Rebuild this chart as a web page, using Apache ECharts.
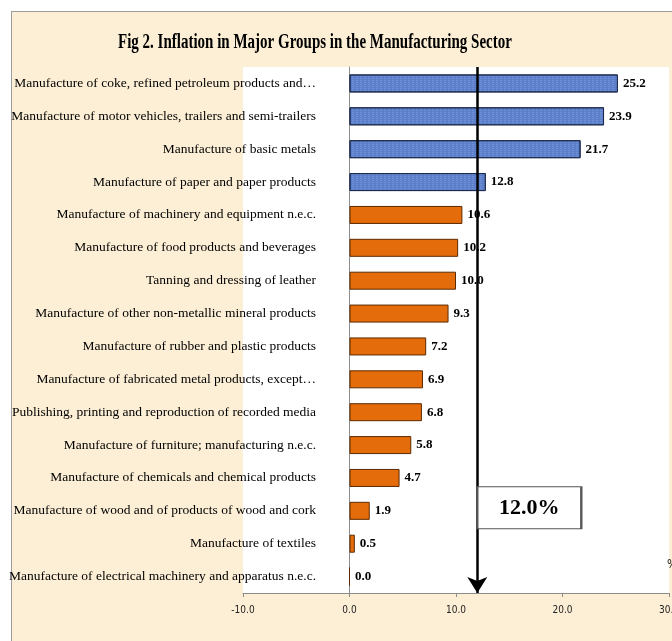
<!DOCTYPE html>
<html>
<head>
<meta charset="utf-8">
<script src="https://cdn.jsdelivr.net/npm/echarts@6/dist/echarts.min.js"></script>
<style>
  html, body { margin: 0; padding: 0; background: #fff; overflow: hidden; }
  #wrap { position: relative; width: 672px; height: 641px; overflow: hidden; }
  #frame { position: absolute; left: 11px; top: 11px; width: 720px; height: 700px;
           border: 1px solid #9c9c9c; background: #fcefd5; }
  #chart { position: absolute; left: 0; top: 0; width: 672px; height: 641px; }
</style>
</head>
<body>
<div id="wrap">
  <div id="frame"></div>
  <div id="chart"></div>
</div>
<script>
var titleText = 'Fig 2. Inflation in Major Groups in the Manufacturing Sector';

var categories = [
  'Manufacture of coke, refined petroleum products and\u2026',
  'Manufacture of motor vehicles, trailers and semi-trailers',
  'Manufacture of basic metals',
  'Manufacture of paper and paper products',
  'Manufacture of machinery and equipment n.e.c.',
  'Manufacture of food products and beverages',
  'Tanning and dressing of leather',
  'Manufacture of other non-metallic mineral products',
  'Manufacture of rubber and plastic products',
  'Manufacture of fabricated metal products, except\u2026',
  'Publishing, printing and reproduction of recorded media',
  'Manufacture of furniture; manufacturing n.e.c.',
  'Manufacture of chemicals and chemical products',
  'Manufacture of wood and of products of wood and cork',
  'Manufacture of textiles',
  'Manufacture of electrical machinery and apparatus n.e.c.'
];

var values = [25.2, 23.9, 21.7, 12.8, 10.6, 10.2, 10.0, 9.3, 7.2, 6.9, 6.8, 5.8, 4.7, 1.9, 0.5, 0.0];

// overall manufacturing inflation (the arrow and box)
var overall = 12.0;

var xMin = -10, xMax = 30, xStep = 10;

var myChart = echarts.init(document.getElementById('chart'));

var barData = values.map(function (v) {
  if (v > overall) {
    return {
      value: v,
      itemStyle: {
        color: '#5b7fcb',
        borderColor: '#1d2b4c',
        borderWidth: 1,
        decal: {
          symbol: 'rect',
          symbolSize: 0.7,
          color: 'rgba(205,220,250,0.55)',
          dashArrayX: [2, 2],
          dashArrayY: [1, 1],
          rotation: 0
        }
      }
    };
  }
  return {
    value: v,
    itemStyle: { color: '#e46c0a', borderColor: '#5c2a00', borderWidth: 1 }
  };
});

var option = {
  animation: false,
  graphic: [{
    type: 'text',
    x: 118,
    y: 43,
    scaleX: 0.75,
    z: 100,
    style: {
      text: titleText,
      font: 'bold 20px "Liberation Serif", "Times New Roman", serif',
      fill: '#000',
      textVerticalAlign: 'middle'
    }
  }],
  grid: {
    left: 243,
    right: 3,
    top: 67,
    bottom: 48,
    show: true,
    backgroundColor: '#ffffff',
    borderWidth: 0,
    containLabel: false,
    outerBoundsMode: 'none'
  },
  xAxis: {
    type: 'value',
    min: xMin,
    max: xMax,
    interval: xStep,
    name: '%',
    nameLocation: 'end',
    nameGap: -2,
    nameTextStyle: {
      color: '#222',
      fontSize: 12,
      fontFamily: '"Liberation Sans Narrow", "DejaVu Sans Condensed", sans-serif',
      verticalAlign: 'bottom',
      align: 'left',
      padding: [0, 0, 22, 0]
    },
    axisLine: { show: true, lineStyle: { color: '#8c8c8c', width: 1 } },
    axisTick: { show: true, length: 4, lineStyle: { color: '#8c8c8c' } },
    splitLine: { show: false },
    axisLabel: {
      margin: 12,
      color: '#222',
      fontSize: 10,
      fontFamily: '"Liberation Sans Narrow", "DejaVu Sans Condensed", sans-serif',
      formatter: function (v) { return v.toFixed(1); }
    }
  },
  yAxis: {
    type: 'category',
    inverse: true,
    data: categories,
    axisLine: { show: true, onZero: true, lineStyle: { color: '#8c8c8c', width: 1 } },
    axisTick: { show: false },
    splitLine: { show: false },
    axisLabel: {
      margin: -73,
      color: '#000',
      fontSize: 13.5,
      fontFamily: '"Liberation Serif", "Times New Roman", serif'
    }
  },
  series: [{
    type: 'bar',
    data: barData,
    barWidth: 18,
    label: {
      show: true,
      position: 'right',
      distance: 5,
      color: '#000',
      fontWeight: 'bold',
      fontSize: 13,
      fontFamily: '"Liberation Serif", "Times New Roman", serif',
      formatter: function (p) { return p.value.toFixed(1); }
    },
    markLine: {
      silent: true,
      symbol: ['none', 'arrow'],
      symbolSize: [15, 16],
      lineStyle: { color: '#000', width: 2.5, type: 'solid' },
      label: { show: false },
      data: [{ xAxis: overall }]
    },
    markPoint: {
      silent: true,
      symbol: 'rect',
      symbolSize: [104, 42],
      symbolOffset: [52, -3],
      itemStyle: { color: '#ffffff', borderColor: '#555', borderWidth: 1.5 },
      label: {
        show: true,
        color: '#000',
        fontSize: 22,
        fontWeight: 'bold',
        fontFamily: '"Liberation Serif", "Times New Roman", serif',
        formatter: overall.toFixed(1) + '%'
      },
      data: [{ coord: [overall, categories[13]] }]
    }
  }]
};

myChart.setOption(option);
</script>
</body>
</html>
